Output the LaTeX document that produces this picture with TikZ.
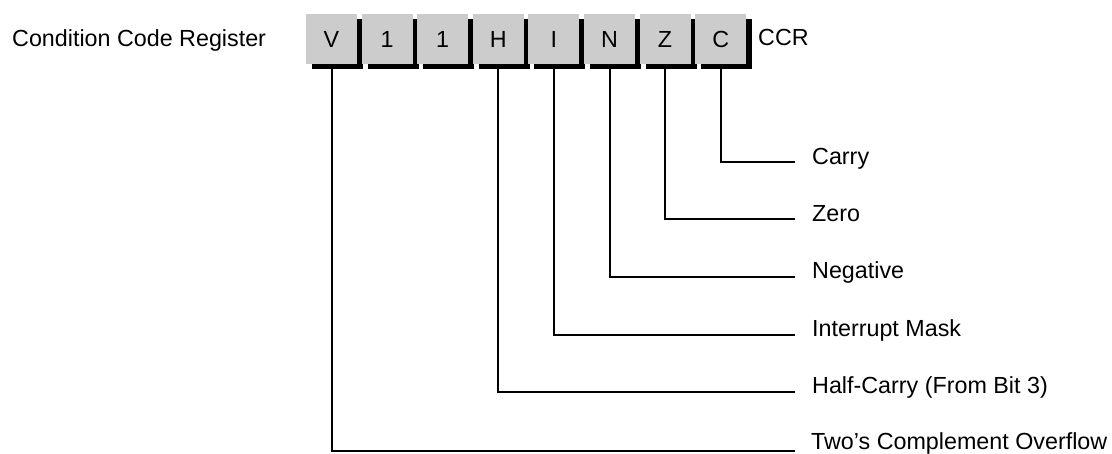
\documentclass[tikz,border=0pt]{standalone}
\usepackage{fontspec}
\setmainfont{Liberation Sans}
\usetikzlibrary{shapes,positioning,shadows}

\begin{document}
\begin{tikzpicture}[x=1pt, y=-1pt, node distance=4.2pt,
        font=\fontsize{23.3}{28}\selectfont]
        % Define styles
        \tikzstyle{bit} = [rectangle, fill=black!20, minimum width=51pt,
            minimum height=50pt, inner sep=0pt,
            drop shadow={shadow xshift=6pt, shadow yshift=-5pt, fill=black, opacity=1}]
        \tikzstyle{flag} = [anchor=base west, inner sep=0pt]
        \tikzstyle{line} = [line width=2pt]

        \useasboundingbox (0,0) rectangle (1112,453);

        % Register
        \node [flag] (title) at (12,46) {Condition Code Register};
        \node [bit] (b7) at (331.5,39) {V};
        \node [bit, right=of b7] (b6) {1};
        \node [bit, right=of b6] (b5) {1};
        \node [bit, right=of b5] (b4) {H};
        \node [bit, right=of b4] (b3) {I};
        \node [bit, right=of b3] (b2) {N};
        \node [bit, right=of b2] (b1) {Z};
        \node [bit, right=of b1] (b0) {C};
        \node [flag] (ccr) at (758,45) {CCR};

        % Flags
        \node [flag] (carry) at (812,164) {Carry};
        \node [flag] (zero) at (812,221) {Zero};
        \node [flag] (neg) at (812,278) {Negative};
        \node [flag] (imask) at (812,336) {Interrupt Mask};
        \node [flag] (hcarry) at (812,393) {Half-Carry (From Bit 3)};
        \node [flag] (ovf) at (811,449) {Two’s Complement Overflow};

        % Lines
        \draw [line] (b0.south) |- ([xshift=-17pt,yshift=2pt]carry.base west);
        \draw [line] (b1.south) |- ([xshift=-17pt,yshift=2pt]zero.base west);
        \draw [line] (b2.south) |- ([xshift=-17pt,yshift=1.5pt]neg.base west);
        \draw [line] (b3.south) |- ([xshift=-17pt,yshift=1pt]imask.base west);
        \draw [line] (b4.south) |- ([xshift=-17pt,yshift=1pt]hcarry.base west);
        \draw [line] (b7.south) |- ([xshift=-16pt,yshift=-2pt]ovf.base west);

    \end{tikzpicture}
\end{document}
